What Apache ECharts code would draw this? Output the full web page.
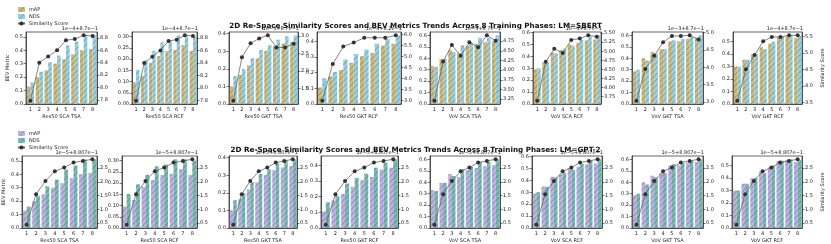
<!DOCTYPE html>
<html><head><meta charset="utf-8">
<script src="https://cdn.jsdelivr.net/npm/echarts@6/dist/echarts.min.js"></script>
<style>html,body{margin:0;padding:0;background:#fff}#c{width:831px;height:244px}</style>
</head><body><div id="c"></div>
<script>
const phases = ['1','2','3','4','5','6','7','8'];
const panelNames = ['Res50 SCA TSA','Res50 SCA RCF','Res50 GKT TSA','Res50 GKT RCF','VoV SCA TSA','VoV SCA RCF','VoV GKT TSA','VoV GKT RCF'];
const titleSBERT = '2D Re-Space Similarity Scores and BEV Metrics Trends Across 8 Training Phases: LM=SBERT';
const titleGPT2 = '2D Re-Space Similarity Scores and BEV Metrics Trends Across 8 Training Phases: LM=GPT-2';

// BEV metrics (same in both rows)
const mapR50ScaTsa = [0.13,0.20,0.25,0.30,0.333,0.37,0.40,0.41];
const ndsR50ScaTsa = [0.16,0.24,0.31,0.36,0.435,0.465,0.51,0.51];
const mapR50ScaRcf = [0.096,0.125,0.183,0.213,0.236,0.241,0.262,0.236];
const ndsR50ScaRcf = [0.151,0.194,0.237,0.274,0.282,0.305,0.305,0.300];
const mapR50GktTsa = [0.10,0.165,0.22,0.26,0.303,0.33,0.344,0.353];
const ndsR50GktTsa = [0.158,0.199,0.26,0.307,0.335,0.366,0.385,0.39];
const mapR50GktRcf = [0.105,0.175,0.217,0.263,0.305,0.326,0.373,0.385];
const ndsR50GktRcf = [0.164,0.205,0.284,0.32,0.347,0.385,0.417,0.438];
const mapVovScaTsa = [0.33,0.395,0.472,0.447,0.507,0.525,0.54,0.55];
const ndsVovScaTsa = [0.323,0.395,0.455,0.515,0.535,0.58,0.578,0.60];
const mapVovScaRcf = [0.29,0.347,0.43,0.45,0.50,0.514,0.533,0.54];
const ndsVovScaRcf = [0.30,0.347,0.425,0.464,0.49,0.536,0.564,0.575];
const mapVovGktTsa = [0.286,0.40,0.457,0.48,0.548,0.548,0.571,0.58];
const ndsVovGktTsa = [0.30,0.38,0.443,0.48,0.557,0.571,0.586,0.60];
const mapVovGktRcf = [0.30,0.355,0.40,0.455,0.485,0.535,0.545,0.53];
const ndsVovGktRcf = [0.30,0.355,0.40,0.44,0.50,0.54,0.55,0.545];

// Similarity scores, LM=SBERT (axis units shown with offset text)
const simSbertR50ScaTsa = [7.79,8.40,8.50,8.60,8.76,8.78,8.84,8.83];
const simSbertR50ScaRcf = [7.80,8.40,8.50,8.60,8.75,8.77,8.84,8.83];
const simSbertR50GktTsa = [1.15,2.39,2.79,2.93,3.02,2.67,2.67,2.78];
const simSbertR50GktRcf = [3.00,4.66,5.45,5.63,5.85,5.85,5.85,5.96];
const simSbertVovScaTsa = [3.21,4.22,4.65,4.37,4.72,4.59,4.90,4.76];
const simSbertVovScaRcf = [3.64,4.71,5.07,4.95,5.31,5.35,5.44,5.40];
const simSbertVovGktTsa = [3.04,3.95,4.33,4.72,4.90,4.90,4.92,4.80];
const simSbertVovGktRcf = [3.55,4.50,4.93,5.35,5.48,5.48,5.53,5.53];
// Similarity scores, LM=GPT-2
const simGpt2 = [0.44,1.55,2.03,2.38,2.52,2.70,2.76,2.82];

// tick labels
const leftTicks = [
  ['0.0','0.1','0.2','0.3','0.4','0.5'],
  ['0.00','0.05','0.10','0.15','0.20','0.25','0.30'],
  ['0.0','0.1','0.2','0.3','0.4'],
  ['0.0','0.1','0.2','0.3','0.4'],
  ['0.0','0.1','0.2','0.3','0.4','0.5','0.6'],
  ['0.0','0.1','0.2','0.3','0.4','0.5','0.6'],
  ['0.0','0.1','0.2','0.3','0.4','0.5','0.6'],
  ['0.0','0.1','0.2','0.3','0.4','0.5']
];
const rightTicksSbert = [
  ['7.8','8.0','8.2','8.4','8.6','8.8'],
  ['7.8','8.0','8.2','8.4','8.6','8.8'],
  ['1.5','2.0','2.5','3.0'],
  ['3.0','3.5','4.0','4.5','5.0','5.5','6.0'],
  ['3.25','3.50','3.75','4.00','4.25','4.50','4.75'],
  ['3.75','4.00','4.25','4.50','4.75','5.00','5.25','5.50'],
  ['3.0','3.5','4.0','4.5','5.0'],
  ['3.5','4.0','4.5','5.0','5.5']
];
const rightTicksGpt2 = ['0.5','1.0','1.5','2.0','2.5'];
const offsetSbert = ['1e\u22124+8.7e\u22121','1e\u22124+8.7e\u22121','1e\u22123+8.7e\u22121','1e\u22124+8.2e\u22121','1e\u22123+8.7e\u22121','1e\u22124+8.7e\u22121','1e\u22123+8.7e\u22121','1e\u22124+8.7e\u22121'];
const offsetGpt2 = '1e\u22125+8.807e\u22121';

const mapAll = [mapR50ScaTsa,mapR50ScaRcf,mapR50GktTsa,mapR50GktRcf,mapVovScaTsa,mapVovScaRcf,mapVovGktTsa,mapVovGktRcf];
const ndsAll = [ndsR50ScaTsa,ndsR50ScaRcf,ndsR50GktTsa,ndsR50GktRcf,ndsVovScaTsa,ndsVovScaRcf,ndsVovGktTsa,ndsVovGktRcf];
const simSbertAll = [simSbertR50ScaTsa,simSbertR50ScaRcf,simSbertR50GktTsa,simSbertR50GktRcf,simSbertVovScaTsa,simSbertVovScaRcf,simSbertVovGktTsa,simSbertVovGktRcf];

// layout
const topLefts = [26,132,229,317,430,533,632,733];
const topRights = [97,197,298,401,500,601,703,802];
const botLefts = [22,122,229,321,430,532,632,732];
const botRights = [97,197,297,398,500,602,703,802];
const rows = [
  {top:32,h:72,lefts:topLefts,rights:topRights,c1:'#c9b26c',c2:'#8ccbe0',hatch1:'rgba(120,95,30,0.45)',hatch2:'rgba(40,120,150,0.45)'},
  {top:156,h:72,lefts:botLefts,rights:botRights,c1:'#b7a7de',c2:'#6ab4a9',hatch1:'rgba(100,80,160,0.45)',hatch2:'rgba(30,110,100,0.45)'}
];
const FONT = 'DejaVu Sans';
const fs = 5;

function ext(arr){const mn=Math.min(...arr),mx=Math.max(...arr);const m=(mx-mn)*0.05;return [mn-m,mx+m];}
function hatch(c){return {symbol:'rect',symbolSize:1,dashArrayX:[1,0],dashArrayY:[1,2.2],rotation:-Math.PI/4,color:c};}

const grid=[],xAxis=[],yAxis=[],series=[],graphic=[];
rows.forEach((r,ri)=>{
  for(let i=0;i<8;i++){
    const gi=ri*8+i;
    grid.push({left:r.lefts[i],top:r.top,width:r.rights[i]-r.lefts[i],height:r.h,show:true,borderColor:'#222',borderWidth:0.7,backgroundColor:'transparent'});
    xAxis.push({type:'category',gridIndex:gi,data:phases,boundaryGap:true,
      axisLine:{lineStyle:{color:'#222',width:0.7}},axisTick:{alignWithLabel:true,length:2.5,lineStyle:{color:'#222',width:0.6}},
      axisLabel:{fontSize:fs,color:'#222',fontFamily:FONT,margin:3},
      name:panelNames[i],nameLocation:'middle',nameGap:10,nameTextStyle:{fontSize:fs,color:'#222',fontFamily:FONT}});
    const bars=mapAll[i].concat(ndsAll[i]);
    const lmax=Math.max(...bars)*1.05;
    const lt=leftTicks[i];
    yAxis.push({type:'value',gridIndex:gi,position:'left',min:0,max:lmax,
      axisLine:{show:true,lineStyle:{color:'#222',width:0.7}},splitLine:{show:false},
      axisTick:{show:true,length:2.5,customValues:lt.map(Number),lineStyle:{color:'#222',width:0.6}},
      axisLabel:{fontSize:fs,color:'#222',fontFamily:FONT,margin:3,customValues:lt.map(Number),formatter:(v)=>{const k=lt.find(s=>Math.abs(Number(s)-v)<1e-9);return k!==undefined?k:'';}},
      name:i===0?'BEV Metric':'',nameLocation:'middle',nameGap:16,nameRotate:90,nameTextStyle:{fontSize:fs,color:'#222',fontFamily:FONT}});
    const sim = ri===0?simSbertAll[i]:simGpt2;
    const rt = ri===0?rightTicksSbert[i]:rightTicksGpt2;
    const e=ext(sim);
    yAxis.push({type:'value',gridIndex:gi,position:'right',min:e[0],max:e[1],
      axisLine:{show:true,lineStyle:{color:'#222',width:0.7}},splitLine:{show:false},
      axisTick:{show:true,length:2.5,customValues:rt.map(Number),lineStyle:{color:'#222',width:0.6}},
      axisLabel:{fontSize:fs,color:'#222',fontFamily:FONT,margin:3,customValues:rt.map(Number),formatter:(v)=>{const k=rt.find(s=>Math.abs(Number(s)-v)<1e-9);return k!==undefined?k:'';}},
      name:i===7?'Similarity Score':'',nameLocation:'middle',nameGap:18,nameRotate:90,nameTextStyle:{fontSize:fs,color:'#222',fontFamily:FONT}});
    series.push({type:'bar',name:'mAP',xAxisIndex:gi,yAxisIndex:gi*2,data:mapAll[i],barGap:'0%',barCategoryGap:'18%',
      itemStyle:{color:r.c1,opacity:0.9,decal:hatch(r.hatch1)},emphasis:{disabled:true}});
    series.push({type:'bar',name:'NDS',xAxisIndex:gi,yAxisIndex:gi*2,data:ndsAll[i],barGap:'0%',barCategoryGap:'18%',
      itemStyle:{color:r.c2,opacity:0.9,decal:hatch(r.hatch2)},emphasis:{disabled:true}});
    series.push({type:'line',name:'Similarity Score',xAxisIndex:gi,yAxisIndex:gi*2+1,data:sim,z:5,
      symbol:'circle',symbolSize:4,lineStyle:{color:'#666',width:0.8},itemStyle:{color:'#333'},emphasis:{disabled:true}});
    graphic.push({type:'text',right:831-r.rights[i]-1,top:r.top-6,style:{text:ri===0?offsetSbert[i]:offsetGpt2,fontSize:fs,fill:'#222',fontFamily:FONT}});
  }
});

const legendBase=(top,c1,c2)=>({orient:'vertical',left:12,top:top,itemWidth:7,itemHeight:5,itemGap:2,
  textStyle:{fontSize:fs,color:'#222',fontFamily:FONT,padding:[0,0,0,-1]},
  data:[{name:'mAP',itemStyle:{color:c1}},{name:'NDS',itemStyle:{color:c2}},{name:'Similarity Score',itemStyle:{color:'#333'},lineStyle:{color:'#666'}}],
  selectedMode:false});

const option={
  animation:false,
  textStyle:{fontFamily:FONT},
  title:[
    {text:titleSBERT,left:'center',top:18,textStyle:{fontSize:7.2,fontWeight:'bold',color:'#111',fontFamily:FONT}},
    {text:titleGPT2,left:'center',top:142,textStyle:{fontSize:7.2,fontWeight:'bold',color:'#111',fontFamily:FONT}}
  ],
  legend:[legendBase(2,rows[0].c1,rows[0].c2),legendBase(126,rows[1].c1,rows[1].c2)],
  grid,xAxis,yAxis,series,graphic
};
const chart=echarts.init(document.getElementById('c'),null,{renderer:'canvas'});
chart.setOption(option);
</script></body></html>
